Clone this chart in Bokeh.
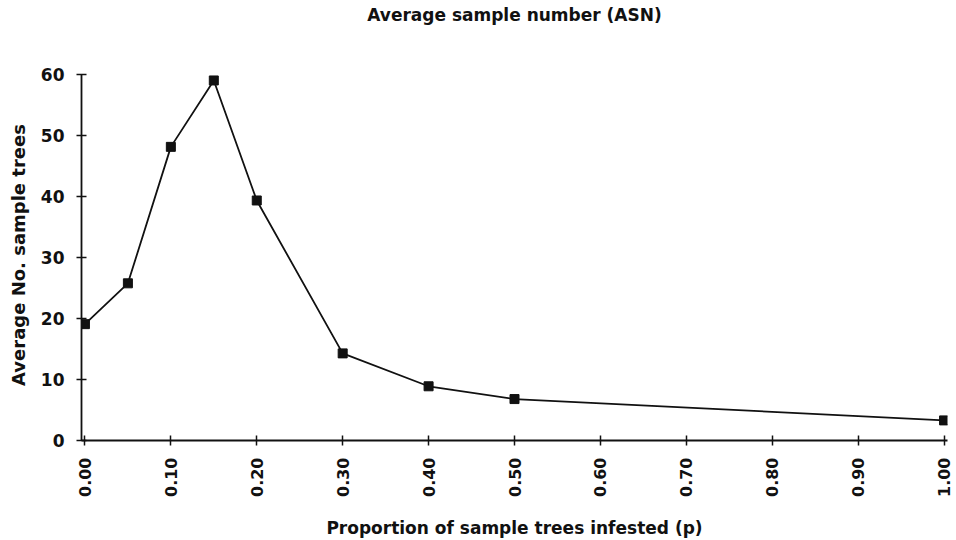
import math
from bokeh.plotting import figure
from bokeh.models import FixedTicker, Range1d, LinearAxis
from bokeh.embed import file_html
from bokeh.resources import INLINE

# Data
p_infested = [0.00, 0.05, 0.10, 0.15, 0.20, 0.30, 0.40, 0.50, 1.00]
asn = [19.1, 25.8, 48.2, 59.1, 39.4, 14.3, 8.9, 6.8, 3.3]

x_ticks = [0.0, 0.1, 0.2, 0.3, 0.4, 0.5, 0.6, 0.7, 0.8, 0.9, 1.0]
x_tick_labels = ["0.00", "0.10", "0.20", "0.30", "0.40", "0.50",
                 "0.60", "0.70", "0.80", "0.90", "1.00"]
y_ticks = [0, 10, 20, 30, 40, 50, 60]
title_text = "Average sample number (ASN)"

FONT = "DejaVu Sans"

p = figure(width=956, height=540, output_backend="svg", toolbar_location=None,
           x_range=Range1d(-0.004, 1.004), y_range=Range1d(0, 60.9),
           min_border_left=81, min_border_right=9, min_border_top=69,
           min_border_bottom=97)

p.outline_line_color = None
p.xgrid.grid_line_color = None
p.ygrid.grid_line_color = None
p.background_fill_color = "white"
p.border_fill_color = "white"

p.line(p_infested, asn, line_color="#111111", line_width=1.8)
p.scatter(p_infested, asn, marker="square", size=9, fill_color="#111111",
          line_color="#111111")

xa = p.below[0]
ya = p.left[0]

xa.ticker = FixedTicker(ticks=x_ticks)
xa.major_label_overrides = {t: l for t, l in zip(x_ticks, x_tick_labels)}
xa.major_label_orientation = math.pi / 2
xa.axis_label = "Proportion of sample trees infested (p)"

ya.ticker = FixedTicker(ticks=y_ticks)
ya.bounds = (0, 60)
ya.axis_label = "Average No. sample trees"

for ax in (xa, ya):
    ax.axis_line_color = "#111111"
    ax.axis_line_width = 1.8
    ax.major_tick_line_color = "#111111"
    ax.major_tick_line_width = 1.5
    ax.major_tick_in = 5
    ax.major_tick_out = 5
    ax.minor_tick_line_color = None
    ax.major_label_text_font = FONT
    ax.major_label_text_font_style = "bold"
    ax.major_label_text_color = "#111111"
    ax.axis_label_text_font = FONT
    ax.axis_label_text_font_style = "bold"
    ax.axis_label_text_color = "#111111"

xa.major_label_text_font_size = "16px"
xa.major_label_standoff = 12
xa.axis_label_text_font_size = "17px"
xa.axis_label_standoff = 18
ya.major_label_text_font_size = "17px"
ya.major_label_standoff = 12
ya.axis_label_text_font_size = "18px"
ya.axis_label_standoff = 9

# Chart title: carried by a bare axis above the frame so it sits at the top
title_axis = LinearAxis(ticker=FixedTicker(ticks=[]), axis_label=title_text,
                        axis_line_color=None, major_tick_in=0, major_tick_out=0,
                        major_tick_line_color=None,
                        minor_tick_line_color=None, major_label_text_color=None,
                        axis_label_standoff=45,
                        axis_label_text_font=FONT, axis_label_text_font_size="17px",
                        axis_label_text_font_style="bold",
                        axis_label_text_color="#111111")
p.add_layout(title_axis, "above")

open("out.html", "w").write(file_html(p, INLINE))
